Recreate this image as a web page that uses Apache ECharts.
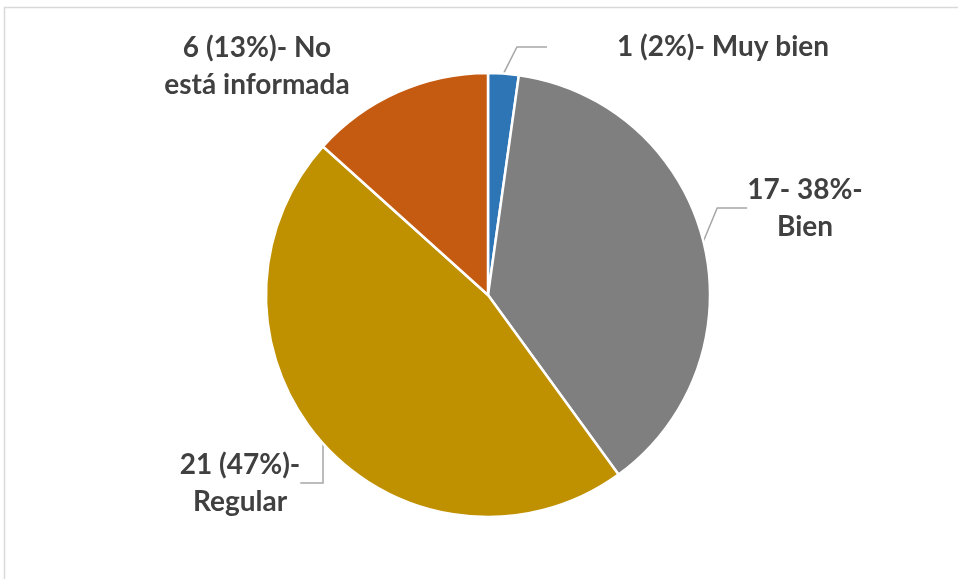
<!DOCTYPE html>
<html>
<head>
<meta charset="utf-8">
<style>
  html, body { margin: 0; padding: 0; background: #fff; }
  #chart { width: 958px; height: 579px; }
</style>
<script src="https://cdn.jsdelivr.net/npm/echarts@6/dist/echarts.min.js"></script>
</head>
<body>
<div id="chart"></div>
<script>
// categories and values
const categories = ['Muy bien', 'Bien', 'Regular', 'No está informada']
const values = [1, 17, 21, 6]
const labels = ['1 (2%)- Muy bien', '17- 38%-\nBien', '21 (47%)-\nRegular', '6 (13%)- No\nestá informada']
const colors = ['#2E75B6', '#7F7F7F', '#BF9000', '#C55A11']

// where each label sits (layout only)
const labelPos = [[688, 47], [805, 208], [240, 483], [257, 66]]
const labelPad = [[0, 0, 0, 70], 0, 0, 0]

const chart = echarts.init(document.getElementById('chart'))

const option = {
  backgroundColor: '#fff',
  animation: false,
  graphic: [{
    type: 'rect',
    shape: { x: 4.5, y: 7.5, width: 960, height: 580 },
    style: { fill: 'none', stroke: '#d9d9d9', lineWidth: 1.5 }
  }],
  series: [{
    type: 'pie',
    center: [488, 295],
    radius: 222,
    startAngle: 90,
    clockwise: true,
    itemStyle: { borderColor: '#fff', borderWidth: 2.5 },
    label: {
      show: true,
      fontFamily: 'Lato',
      fontWeight: 'bold',
      fontSize: 28,
      lineHeight: 37,
      color: '#404040',
      formatter: p => labels[p.dataIndex]
    },
    labelLine: {
      show: true,
      lineStyle: { color: '#A6A6A6', width: 1.5 }
    },
    labelLayout: p => ({
      x: labelPos[p.dataIndex][0],
      y: labelPos[p.dataIndex][1],
      align: 'center',
      verticalAlign: 'middle'
    }),
    data: categories.map((c, i) => ({
      name: c,
      value: values[i],
      itemStyle: { color: colors[i] },
      label: { padding: labelPad[i] },
      labelLine: { show: i !== 3 }
    }))
  }]
}
chart.setOption(option)
</script>
</body>
</html>
